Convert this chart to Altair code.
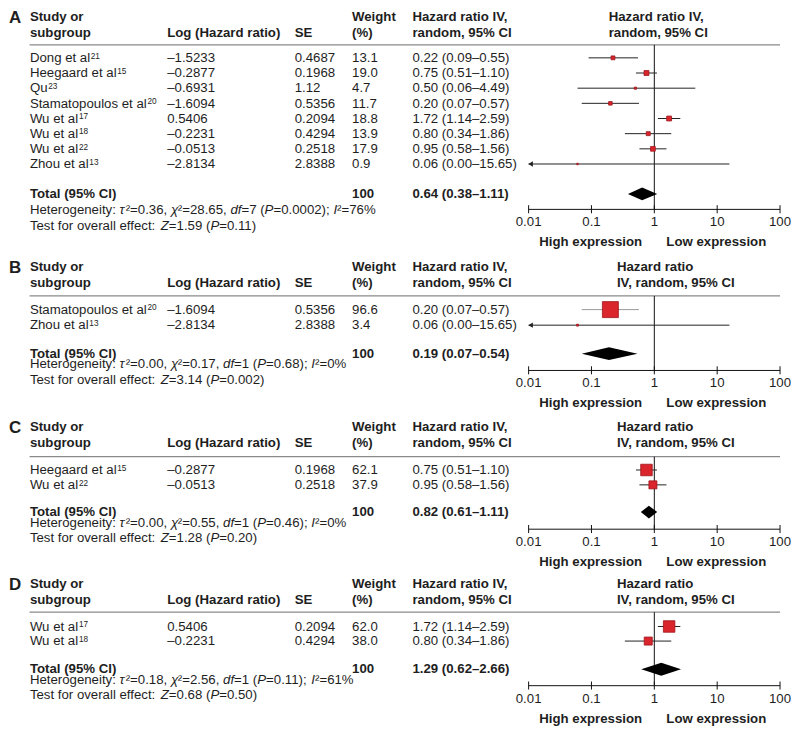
import altair as alt
import pandas as pd

# ------------------------------------------------------------------ data
A_study = ["Dong et al", "Heegaard et al", "Qu", "Stamatopoulos et al",
           "Wu et al", "Wu et al", "Wu et al", "Zhou et al"]
A_ref = ["21", "15", "23", "20", "17", "18", "22", "13"]
A_loghr = [-1.5233, -0.2877, -0.6931, -1.6094, 0.5406, -0.2231, -0.0513, -2.8134]
A_se = [0.4687, 0.1968, 1.12, 0.5356, 0.2094, 0.4294, 0.2518, 2.8388]
A_weight = [13.1, 19.0, 4.7, 11.7, 18.8, 13.9, 17.9, 0.9]
A_hr = [0.22, 0.75, 0.50, 0.20, 1.72, 0.80, 0.95, 0.06]
A_lo = [0.09, 0.51, 0.06, 0.07, 1.14, 0.34, 0.58, 0.00]
A_hi = [0.55, 1.10, 4.49, 0.57, 2.59, 1.86, 1.56, 15.65]
A_total = [0.64, 0.38, 1.11]
A_het = ["0.36", "28.65", "7", "0.0002", "76%"]
A_test = ["1.59", "0.11"]

B_study = ["Stamatopoulos et al", "Zhou et al"]
B_ref = ["20", "13"]
B_loghr = [-1.6094, -2.8134]
B_se = [0.5356, 2.8388]
B_weight = [96.6, 3.4]
B_hr = [0.20, 0.06]
B_lo = [0.07, 0.00]
B_hi = [0.57, 15.65]
B_total = [0.19, 0.07, 0.54]
B_het = ["0.00", "0.17", "1", "0.68", "0%"]
B_test = ["3.14", "0.002"]

C_study = ["Heegaard et al", "Wu et al"]
C_ref = ["15", "22"]
C_loghr = [-0.2877, -0.0513]
C_se = [0.1968, 0.2518]
C_weight = [62.1, 37.9]
C_hr = [0.75, 0.95]
C_lo = [0.51, 0.58]
C_hi = [1.10, 1.56]
C_total = [0.82, 0.61, 1.11]
C_het = ["0.00", "0.55", "1", "0.46", "0%"]
C_test = ["1.28", "0.20"]

D_study = ["Wu et al", "Wu et al"]
D_ref = ["17", "18"]
D_loghr = [0.5406, -0.2231]
D_se = [0.2094, 0.4294]
D_weight = [62.0, 38.0]
D_hr = [1.72, 0.80]
D_lo = [1.14, 0.34]
D_hi = [2.59, 1.86]
D_total = [1.29, 0.62, 2.66]
D_het = ["0.18", "2.56", "1", "0.11", "61%"]
D_test = ["0.68", "0.50"]

TICK_VALUES = [0.01, 0.1, 1, 10, 100]
TICK_LABELS = ["0.01", "0.1", "1", "10", "100"]

PANELS = [
    dict(letter="A", study=A_study, ref=A_ref, loghr=A_loghr, se=A_se, weight=A_weight,
         hr=A_hr, lo=A_lo, hi=A_hi, total=A_total, het=A_het, test=A_test,
         head=("Hazard ratio IV,", "random, 95% CI")),
    dict(letter="B", study=B_study, ref=B_ref, loghr=B_loghr, se=B_se, weight=B_weight,
         hr=B_hr, lo=B_lo, hi=B_hi, total=B_total, het=B_het, test=B_test,
         head=("Hazard ratio", "IV, random, 95% CI")),
    dict(letter="C", study=C_study, ref=C_ref, loghr=C_loghr, se=C_se, weight=C_weight,
         hr=C_hr, lo=C_lo, hi=C_hi, total=C_total, het=C_het, test=C_test,
         head=("Hazard ratio", "IV, random, 95% CI")),
    dict(letter="D", study=D_study, ref=D_ref, loghr=D_loghr, se=D_se, weight=D_weight,
         hr=D_hr, lo=D_lo, hi=D_hi, total=D_total, het=D_het, test=D_test,
         head=("Hazard ratio", "IV, random, 95% CI")),
]

# ------------------------------------------------------------------ layout
W, H = 787, 720
SX, SY = 0.986, 0.977


def X(r):
    return (r - 1.0) * SX


def Y(r):
    return (r - 3.0) * SY


LAYOUT = {
    "A": dict(sb1=15, sb2=30.5, line=39, row1=56.7, step=15.6, total=196.7, het=213.3, test=230.0, axis=208.3, headx=613.3),
    "B": dict(sb1=271.7, sb2=287.7, line=297.3, row1=315.7, step=16.0, total=361.0, het=371.6, test=388.3, axis=374.0, headx=621.7),
    "C": dict(sb1=436.7, sb2=452.3, line=462.7, row1=480.7, step=15.3, total=524.0, het=534.6, test=550.7, axis=537.3, headx=621.7),
    "D": dict(sb1=598.3, sb2=614.0, line=622.7, row1=641.7, step=15.0, total=685.7, het=696.3, test=712.3, axis=698.3, headx=621.7),
}
C_LETTER, C_STUDY, C_LOG, C_SE, C_W, C_HR = 2.0, 23.3, 163.3, 293.3, 351.7, 413.3
C_HIGH, C_LOW = 595.0, 723.0
XR0, XR1 = X(531.7), X(788.0)

FONT = "Liberation Sans"
INK = "#1e1e1e"
FS = 13.3
RED, DKRED = "#d9252b", "#9e161c"

# Arial / Liberation Sans advance widths (1/1000 em)
AW = {ch: 556 for ch in "0123456789"}
AW.update({" ": 278, "%": 889, "(": 333, ")": 333, ",": 278, "-": 333, ".": 278, ":": 278,
           ";": 278, "=": 584, "–": 556, "²": 333, "τ": 460, "χ": 520})
AW.update(dict(zip("ABCDEFGHIJKLMNOPQRSTUVWXYZ",
                   [667, 667, 722, 722, 667, 611, 778, 722, 278, 500, 667, 556, 833, 722, 778,
                    667, 778, 722, 667, 611, 722, 667, 944, 667, 667, 611])))
AW.update(dict(zip("abcdefghijklmnopqrstuvwxyz",
                   [556, 556, 500, 556, 556, 278, 556, 556, 222, 222, 500, 222, 833, 556, 556,
                    556, 556, 333, 500, 278, 556, 500, 722, 500, 500, 500])))


def tw(s, size=FS):
    return sum(AW.get(ch, 556) for ch in s) * size / 1000.0


texts = []


def add_text(cx, cy, text, style="r", size=FS, align="left"):
    texts.append(dict(cx=cx, cy=cy, text=text, style=style, size=size, align=align))


def add_runs(x_ref, y_ref, parts):
    cx = X(x_ref)
    for s, st in parts:
        add_text(cx, Y(y_ref), s, st)
        cx += tw(s)


def fmt_signed(v):
    return f"{v:.4f}".replace("-", "–")


ci_rows, arrows, diamonds, vlines, axis_rows, tick_rows, tick_labels, hlines = [], [], [], [], [], [], [], []

for P in PANELS:
    L = LAYOUT[P["letter"]]
    add_text(X(C_LETTER), Y(L["sb1"] + 2.0), P["letter"], "b", 17)
    add_text(X(C_STUDY), Y(L["sb1"]), "Study or", "b")
    add_text(X(C_STUDY), Y(L["sb2"]), "subgroup", "b")
    add_text(X(C_LOG), Y(L["sb2"]), "Log (Hazard ratio)", "b")
    add_text(X(C_SE), Y(L["sb2"]), "SE", "b")
    add_text(X(C_W), Y(L["sb1"]), "Weight", "b")
    add_text(X(C_W), Y(L["sb2"]), "(%)", "b")
    add_text(X(C_HR), Y(L["sb1"]), "Hazard ratio IV,", "b")
    add_text(X(C_HR), Y(L["sb2"]), "random, 95% CI", "b")
    add_text(X(L["headx"]), Y(L["sb1"]), P["head"][0], "b")
    add_text(X(L["headx"]), Y(L["sb2"]), P["head"][1], "b")
    hlines.append(dict(x=X(23.0), x2=X(788.0), y=Y(L["line"])))

    for i, name in enumerate(P["study"]):
        yb = L["row1"] + i * L["step"]
        add_text(X(C_STUDY), Y(yb), name)
        add_text(X(C_STUDY) + tw(name) + 0.6, Y(yb - 3.6), P["ref"][i], "r", 8.3)
        add_text(X(C_LOG), Y(yb), fmt_signed(P["loghr"][i]))
        add_text(X(C_SE), Y(yb), str(P["se"][i]))
        add_text(X(C_W), Y(yb), f"{P['weight'][i]:.1f}")
        add_text(X(C_HR), Y(yb), f"{P['hr'][i]:.2f} ({P['lo'][i]:.2f}–{P['hi'][i]:.2f})")
        lo = P["lo"][i]
        ci_rows.append(dict(lo=max(lo, 0.01), hi=P["hi"][i], hr=P["hr"][i], w=P["weight"][i],
                            cy=Y(yb - 4.3), col="#9a9a9a" if P["weight"][i] > 90 else "#222222"))
        if lo < 0.01:
            arrows.append(dict(x=0.01, cy=Y(yb - 4.3)))

    t_hr, t_lo, t_hi = P["total"]
    add_text(X(C_STUDY), Y(L["total"]), "Total (95% CI)", "b")
    add_text(X(C_W), Y(L["total"]), "100", "b")
    add_text(X(C_HR), Y(L["total"]), f"{t_hr:.2f} ({t_lo:.2f}–{t_hi:.2f})", "b")
    dc = L["total"] - 4.3
    for xv, hh in [(t_lo, 0.0), (t_hr, 6.6), (t_hi, 0.0)]:
        diamonds.append(dict(panel=P["letter"], x=xv, y=Y(dc - hh), y2=Y(dc + hh)))

    tau, chi, df, p, i2 = P["het"]
    add_runs(C_STUDY, L["het"], [("Heterogeneity: ", "r"), ("τ", "i"), (f"²={tau}, ", "r"),
                                 ("χ", "i"), (f"²={chi}, ", "r"), ("df", "i"), (f"={df} (", "r"),
                                 ("P", "i"), (f"={p}); ", "r"), ("I", "i"), (f"²={i2}", "r")])
    z, pz = P["test"]
    add_runs(C_STUDY, L["test"], [("Test for overall effect: ", "r"), ("Z", "i"),
                                  (f"={z} (", "r"), ("P", "i"), (f"={pz})", "r")])

    vlines.append(dict(x=1.0, y=Y(L["line"]), y2=Y(L["axis"])))
    axis_rows.append(dict(x=TICK_VALUES[0], x2=TICK_VALUES[-1], y=Y(L["axis"])))
    for tv, tl in zip(TICK_VALUES, TICK_LABELS):
        tick_rows.append(dict(x=tv, y=Y(L["axis"] - 4.3), y2=Y(L["axis"] + 4.0)))
        tick_labels.append(dict(x=tv, cy=Y(L["axis"] + 17.5), text=tl, size=FS))
    add_text(X(C_HIGH), Y(L["axis"] + 38.0), "High expression", "b", FS, "center")
    add_text(X(C_LOW), Y(L["axis"] + 38.0), "Low expression", "b", FS, "center")

tdf = pd.DataFrame(texts)

# ------------------------------------------------------------------ encodings
LOG = alt.Scale(type="log", domain=[0.01, 100], range=[XR0, XR1])


def lx(f):
    return alt.X(f, type="quantitative", scale=LOG, axis=None)


def px(f):
    return alt.X(f, type="quantitative", scale=None, axis=None)


def py(f):
    return alt.Y(f, type="quantitative", scale=None, axis=None)


def text_layer(style, align):
    sub = tdf[(tdf["style"] == style) & (tdf["align"] == align)]
    kw = {}
    if style == "b":
        kw["fontWeight"] = "bold"
    if style == "i":
        kw["fontStyle"] = "italic"
    return alt.Chart(sub).mark_text(font=FONT, color=INK, baseline="alphabetic", align=align, **kw).encode(
        x=px("cx"), y=py("cy"), text=alt.Text("text:N"), size=alt.Size("size:Q", scale=None))


layers = []
layers.append(alt.Chart(pd.DataFrame(hlines)).mark_rule(color="#8a8a8a", strokeWidth=1.3).encode(
    x=px("x"), x2=alt.X2("x2"), y=py("y")))
layers.append(alt.Chart(pd.DataFrame(vlines)).mark_rule(color="#111111", strokeWidth=1).encode(
    x=lx("x"), y=py("y"), y2=alt.Y2("y2")))
layers.append(alt.Chart(pd.DataFrame(axis_rows)).mark_rule(color="#111111", strokeWidth=1).encode(
    x=lx("x"), x2=alt.X2("x2"), y=py("y")))
layers.append(alt.Chart(pd.DataFrame(tick_rows)).mark_rule(color="#111111", strokeWidth=1).encode(
    x=lx("x"), y=py("y"), y2=alt.Y2("y2")))
layers.append(alt.Chart(pd.DataFrame(ci_rows)).mark_rule(strokeWidth=1).encode(
    x=lx("lo"), x2=alt.X2("hi"), y=py("cy"), color=alt.Color("col:N", scale=None)))
layers.append(alt.Chart(pd.DataFrame(arrows)).mark_point(shape="triangle-left", filled=True, size=28,
                                                       color="#222222", xOffset=2, opacity=1).encode(
    x=lx("x"), y=py("cy")))
layers.append(alt.Chart(pd.DataFrame(ci_rows)).mark_square(fill=RED, stroke=DKRED, strokeWidth=0.8, opacity=1).encode(
    x=lx("hr"), y=py("cy"),
    size=alt.Size("w:Q", scale=alt.Scale(type="pow", exponent=1.5, domain=[0, 100], range=[2, 272]), legend=None)))
layers.append(alt.Chart(pd.DataFrame(diamonds)).mark_area(color="#000000", opacity=1).encode(
    x=lx("x"), y=py("y"), y2=alt.Y2("y2"), detail="panel:N"))
layers.append(alt.Chart(pd.DataFrame(tick_labels)).mark_text(font=FONT, color=INK, baseline="alphabetic", align="center").encode(
    x=lx("x"), y=py("cy"), text=alt.Text("text:N"), size=alt.Size("size:Q", scale=None)))
layers.append(text_layer("r", "left"))
layers.append(text_layer("i", "left"))
layers.append(text_layer("b", "left"))
layers.append(text_layer("b", "center"))

chart = alt.layer(*layers).resolve_scale(
    x="independent", y="independent", size="independent", color="independent"
).properties(
    width=W, height=H, autosize=alt.AutoSizeParams(type="none"), padding=0,
    background="white"
).configure_view(stroke=None)

chart.save("out.html", embed_options={"renderer": "svg", "actions": False})
